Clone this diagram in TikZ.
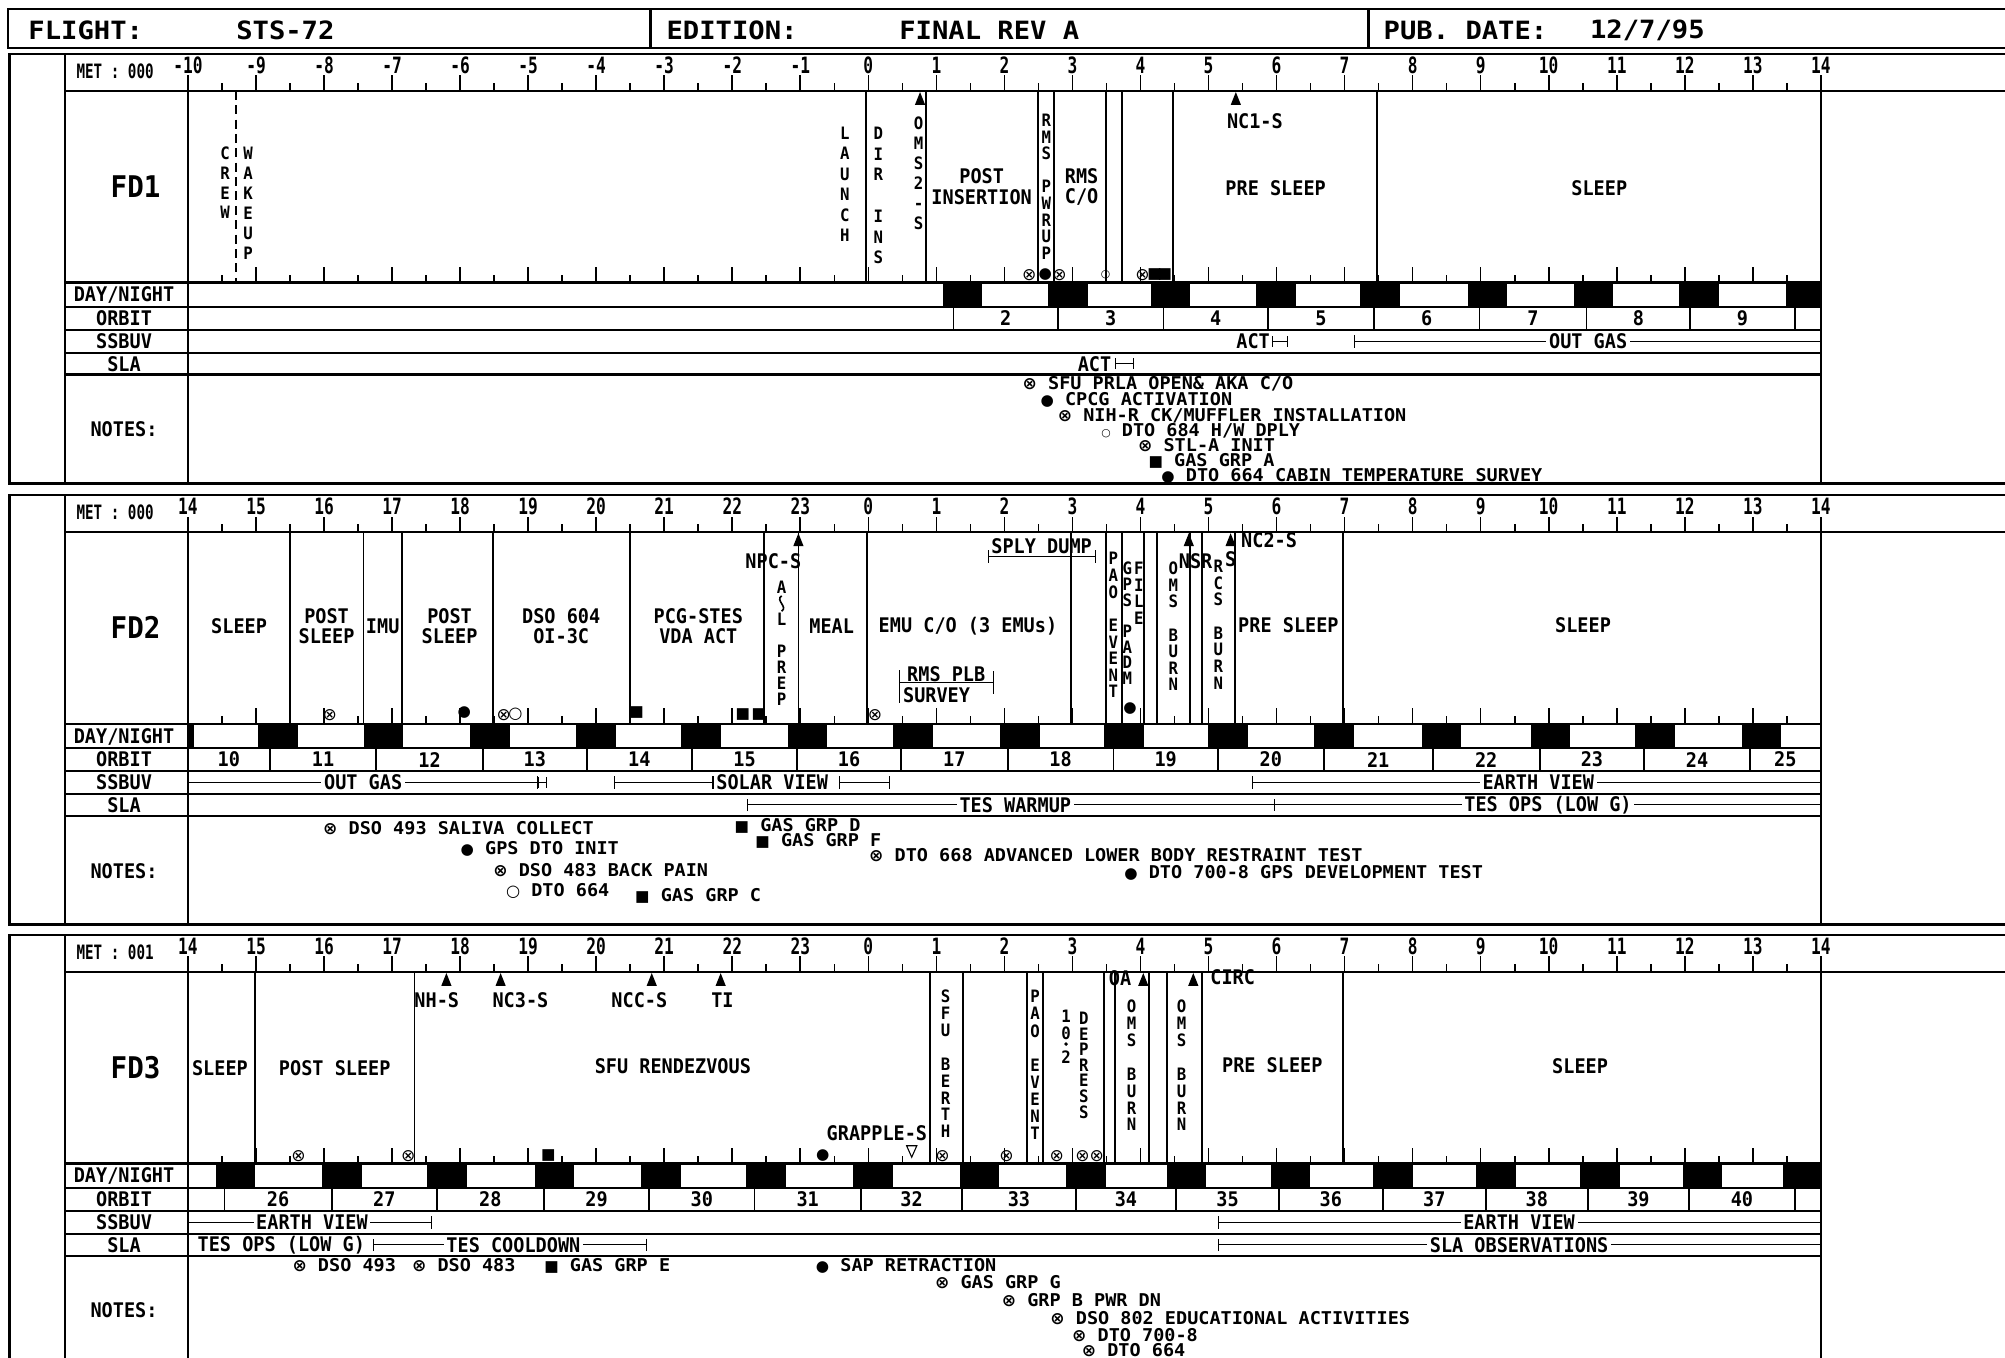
\documentclass[tikz,border=0pt]{standalone}
\usepackage{fontspec}
\setmainfont{DejaVu Sans Mono}[FakeStretch=0.92]
\newfontfamily\hdfont{DejaVu Sans Mono}[FakeStretch=1.08]
\newfontfamily\numfont{DejaVu Sans Mono}[FakeStretch=0.72]
\newfontfamily\notefont{DejaVu Sans Mono}[FakeStretch=1.05]
\newfontfamily\symfont{DejaVu Sans}
\usetikzlibrary{arrows.meta}

% fonts of the sheet
\newcommand{\lbl}{\bfseries\fontsize{11.2}{11.2}\selectfont}
\newcommand{\vlbl}{\bfseries\fontsize{9.5}{9.5}\selectfont}
\newcommand{\notefnt}{\notefont\bfseries\fontsize{9.8}{9.8}\selectfont}
\newcommand{\hdfnt}{\hdfont\bfseries\fontsize{14}{14}\selectfont}
\newcommand{\numfnt}{\numfont\bfseries\fontsize{12.5}{12.5}\selectfont}
\newcommand{\metfnt}{\numfont\bfseries\fontsize{11}{11}\selectfont}
\newcommand{\fdfnt}{\bfseries\fontsize{16.6}{17}\selectfont}

% note symbols
\newcommand{\gX}{{\symfont\fontsize{9.5}{9.5}\selectfont ⊗}}
\newcommand{\gB}{{\symfont\fontsize{8.5}{8.5}\selectfont ●}}
\newcommand{\gS}{{\symfont\fontsize{8.5}{8.5}\selectfont ■}}
\newcommand{\gO}{{\symfont\fontsize{9}{9}\selectfont ○}}
\newcommand{\go}{{\symfont\fontsize{6}{6}\selectfont ○}}

% letters stacked down a narrow slot
\newcommand{\vword}[5]{%
  \foreach \c [count=\k] in {#5}
    \node[vchar] (#1-\k) at (#2,{#3+(\k-1)*#4}) {\c};}
% activity dividers of one day
\newcommand{\divs}[2]{%
  \foreach \x in {#2} \draw[div] (\x,{#1+29}) -- (\x,{#1+179});}
% night blocks of one day
\newcommand{\nights}[2]{%
  \foreach \x in {#2} \fill ({\x},{#1+179.5}) rectangle ({min(\x+31,1424)},{#1+198});}
% orbit boundaries and numbers of one day
\newcommand{\orbits}[4]{%
  \foreach \x [count=\i, remember=\x as \lx (initially 0)] in {#4} {
    \draw[div] (\x,{#1+198}) -- (\x,{#1+216});
    \ifnum\i>1
      \pgfmathtruncatemacro\onum{#3+\i-2}
      \node[lab] (orb#2-\onum) at ({(\x+\lx)/2},{#1+207}) {\onum};
    \fi}}

\begin{document}
\begin{tikzpicture}[x=0.025cm, y=-0.025cm,
  frame/.style={line width=1.3pt},
  div/.style={line width=1pt},
  tick/.style={line width=0.9pt},
  span/.style={line width=0.6pt},
  lab/.style={font=\lbl, inner sep=0pt, align=center},
  barlab/.style={lab, fill=white, inner xsep=1.5pt, inner ysep=0.5pt},
  vchar/.style={font=\vlbl, inner sep=0pt, text height=6.9pt, text depth=0pt},
  note/.style={font=\notefnt, inner sep=0pt, anchor=west, text height=7.1pt, text depth=0pt},
  sym/.style={inner sep=0pt},
  hd/.style={font=\hdfnt, inner sep=0pt, anchor=west},
  hr/.style={font=\numfnt, inner sep=0pt},
  uptri/.pic={\fill (0,0) -- (-4,10) -- (4,10) -- cycle;}]

\useasboundingbox (0,0) rectangle (1568,1062);
\clip (0,0) rectangle (1568,1062);

% Header
\draw[frame] (1568,7.3) -- (6,7.3) -- (6,37.3) -- (1568,37.3);
\draw[frame] (508.7,7.3) -- (508.7,37.3) (1070.3,7.3) -- (1070.3,37.3);
\node[hd] (flight) at (22,23.5) {FLIGHT:};
\node[hd] (flightno) at (184.5,23.5) {STS-72};
\node[hd] (edition) at (521,23.5) {EDITION:};
\node[hd] (editionno) at (703,23.5) {FINAL REV A};
\node[hd] (pubdate) at (1081.8,23.5) {PUB. DATE:};
\node[hd] (pubdateno) at (1243.2,23.5) {12/7/95};

% Frame, time scale and row names of each flight day
\foreach \T/\d/\met/\hs in {42/1/000/-10, 387/2/000/14, 731/3/001/14} {
  \draw[frame] (1568,\T) -- (7.5,\T) -- (7.5,\T+336) -- (1568,\T+336);
  \draw[frame] (51,\T) -- (51,\T+336);
  \draw[frame] (51,\T+29) -- (1568,\T+29);
  \foreach \r in {179,198,216,234,251}
    \draw[frame] (51,\T+\r) -- (1424,\T+\r);
  \draw[frame] (147,\T+29) -- (147,\T+336) (1424,\T+29) -- (1424,\T+336);
  \foreach \i in {0,...,48} {
    \pgfmathsetmacro\tx{147+\i*26.604}
    \pgfmathsetmacro\tl{isodd(\i) ? 6 : 12}
    \draw[tick] (\tx,\T+29) -- ++(0,-\tl) (\tx,\T+179) -- ++(0,-\tl);
  }
  \foreach \i in {0,...,24} {
    \pgfmathtruncatemacro\hr{\i+\hs>23 ? \i+\hs-24 : \i+\hs}
    \node[hr] (h\d-\i) at ({147+\i*53.208},\T+9) {\hr};
  }
  \node[lab, font=\metfnt] (met\d) at (90,\T+14) {MET : \met};
  \node[lab, font=\fdfnt] (fd\d) at (106,\T+104) {FD\d};
  \node[lab] (dn\d) at (97,\T+189) {DAY/NIGHT};
  \node[lab] (orbit\d) at (97,\T+207) {ORBIT};
  \node[lab] (ssbuv\d) at (97,\T+225) {SSBUV};
  \node[lab] (sla\d) at (97,\T+242.5) {SLA};
  \node[lab] (notes\d) at (97,\T+294) {NOTES:};
}

% ---------------- FD1 ----------------
\divs{42}{677,724.2,812,824.5,864.7,877.2,917.1,1076.8}
\draw[div, dash pattern=on 5pt off 3pt] (184.6,71) -- (184.6,221);
\vword{crew}{176}{120}{15.4}{C,R,E,W}
\vword{wake}{194}{120}{15.6}{W,A,K,E,U,P}
\vword{launch}{660.8}{104.2}{16}{L,A,U,N,C,H}
\vword{dirins}{686.9}{104.2}{16.2}{D,I,R,{},I,N,S}
\vword{omstwo}{718.4}{96.4}{15.6}{O,M,S,2,-,S}
\vword{rmspwr}{818.3}{94}{13}{R,M,S,{},P,W,R,U,P}
\node[lab] (postins) at (767.7,146) {POST\\INSERTION};
\node[lab] (rmsco) at (845.9,146.5) {RMS\\C/O};
\node[lab] (presleep1) at (997.6,147) {PRE SLEEP};
\node[lab] (sleep1) at (1250.7,147) {SLEEP};
\pic (tri1a) at (719.5,72) {uptri};
\pic (tri1b) at (966.5,72) {uptri};
\node[lab] (nc1) at (981.4,95) {NC1-S};
\foreach \x/\s [count=\k] in {805/\gX, 817.5/\gB, 828.5/\gX, 864.7/\go, 893.6/\gX, 903/\gS, 911/\gS}
  \node[sym] (s1-\k) at (\x,215) {\s};
\nights{42}{737.2,819.6,899.8,982.6,1063.7,1147.9,1230.7,1313.4,1396.6}
\orbits{42}{1}{2}{745.6,827.2,909.9,991.6,1074.3,1157,1240.7,1321.9,1403.6}
% SSBUV and SLA
\node[lab] (act1a) at (980,267) {ACT};
\draw[span, {Bar[width=6pt]}-{Bar[width=6pt]}] (995,267) -- (1007,267);
\draw[span, {Bar[width=7pt]}-] (1058.7,267) -- (1424,267);
\node[barlab] (outgas1) at (1242,267) {OUT GAS};
\node[lab] (act1b) at (856,284.5) {ACT};
\draw[span, {Bar[width=6pt]}-{Bar[width=6pt]}] (872,284.5) -- (887,284.5);
% notes
\node[note] (n1-1) at (799.5,300) {\gX\ SFU PRLA OPEN\& AKA C/O};
\node[note] (n1-2) at (813.5,312) {\gB\ CPCG ACTIVATION};
\node[note] (n1-3) at (827,324.6) {\gX\ NIH-R CK/MUFFLER INSTALLATION};
\node[note] (n1-4) at (861,336.3) {\go\ DTO 684 H/W DPLY};
\node[note] (n1-5) at (889.8,348) {\gX\ STL-A INIT};
\node[note] (n1-6) at (898,359.8) {\gS\ GAS GRP A};
\node[note] (n1-7) at (908,371.5) {\gB\ DTO 664 CABIN TEMPERATURE SURVEY};

% ---------------- FD2 ----------------
\divs{387}{227,284.3,314.2,385.5,492.8,597.7,624.4,677.8,837.6,864.7,877.2,894.7,904.6,930.6,939.8,965.8,1050.2}
\node[lab] (sleep2a) at (187,490) {SLEEP};
\node[lab] (postsleep2a) at (255.4,490) {POST\\SLEEP};
\node[lab] (imu2) at (299.3,490) {IMU};
\node[lab] (postsleep2b) at (351.6,490) {POST\\SLEEP};
\node[lab] (dso604) at (438.9,490) {DSO 604\\OI-3C};
\node[lab] (pcg2) at (546.1,490) {PCG-STES\\VDA ACT};
\node[lab] (meal2) at (650.4,490) {MEAL};
\node[lab] (emu2) at (757,490) {EMU C/O (3 EMUs)};
\node[lab] (presleep2) at (1007.6,489) {PRE SLEEP};
\node[lab] (sleep2b) at (1238,489) {SLEEP};
\pic (tri2a) at (624.4,417) {uptri};
\pic (tri2b) at (929.7,417) {uptri};
\pic (tri2c) at (962.4,417) {uptri};
\node[lab] (npc2) at (604.8,439) {NPC-S};
\node[lab] (nsr2) at (935,439) {NSR};
\node[lab] (nsrs2) at (962.4,437) {S};
\node[lab] (nc2) at (992.5,422.4) {NC2-S};
\vword{alprep}{611.3}{459}{12.5}{A}
\draw[line width=0.9pt] (611.3,466) .. controls (606,469.5) and (616.5,474.5) .. (611.3,478);
\vword{prep}{611.3}{484}{12.5}{L,{},P,R,E,P}
\vword{paotwo}{870.7}{437}{13}{P,A,O,{},E,V,E,N,T}
\vword{gpstwo}{881.6}{444.5}{12.3}{G,P,S,{},P,A,D,M}
\vword{filetwo}{890.6}{444.5}{13}{F,I,L,E}
\vword{omsburn2}{917.6}{444.5}{13}{O,M,S,{},B,U,R,N}
\vword{rcsburn2}{952.8}{443}{13}{R,C,S,{},B,U,R,N}
% supply dump and payload bay survey brackets
\draw[span, {Bar[width=7pt]}-{Bar[width=7pt]}] (772.9,435.3) -- (856.9,435.3);
\node[lab] (splydump) at (814.6,427.5) {SPLY DUMP};
\draw[span] (703.2,524) -- (703.2,550) (776.8,525) -- (776.8,543) (703.2,534) -- (776.8,534);
\node[lab] (rmsplb) at (740,527.5) {RMS PLB};
\node[lab, anchor=west] (survey) at (706,544) {SURVEY};
\foreach \x/\s [count=\k] in {257.9/\gX, 394/\gX, 403/\gO, 581/\gS, 593.5/\gS, 684.3/\gX}
  \node[sym] (s2-\k) at (\x,559) {\s};
\node[sym] (s2-7) at (363.1,557) {\gB};
\node[sym] (s2-8) at (497.8,557) {\gS};
\node[sym] (s2-9) at (883.7,554) {\gB};
\fill (147,566.5) rectangle (152,585);
\nights{387}{202,284.3,367.6,450.4,532.7,616,698.3,782,863.3,945,1027.7,1111.9,1197,1279,1362}
\orbits{387}{2}{11}{211,294.3,377.6,458.9,541.1,623.4,704.7,788,870.8,952.5,1035.2,1120.4,1204.1,1285.8,1368.5}
\node[lab] (orb2-10) at (179,594) {10};
\node[lab] (orb2-25) at (1396.2,594) {25};
% SSBUV and SLA
\draw[span, -{Bar[width=7pt]}] (147,612) -- (421,612);
\draw[span, {Bar[width=6pt]}-{Bar[width=6pt]}] (421,612) -- (428,612);
\node[barlab] (outgas2) at (284,612) {OUT GAS};
\draw[span, {Bar[width=7pt]}-{Bar[width=7pt]}] (480,612) -- (558,612);
\node[lab, anchor=west] (solar2) at (560,612) {SOLAR VIEW};
\draw[span, {Bar[width=7pt]}-{Bar[width=7pt]}] (656,612) -- (696,612);
\draw[span, {Bar[width=7pt]}-] (979,612) -- (1424,612);
\node[barlab] (earth2) at (1203,612) {EARTH VIEW};
\draw[span, {Bar[width=7pt]}-] (584.5,629.5) -- (1424,629.5);
\draw[span] (996.6,625) -- (996.6,634);
\node[barlab] (warmup2) at (794,629.5) {TES WARMUP};
\node[barlab] (tesops2) at (1210.6,629.5) {TES OPS (LOW G)};
% notes
\node[note] (n2-1) at (252.5,647.8) {\gX\ DSO 493 SALIVA COLLECT};
\node[note] (n2-2) at (360,663.4) {\gB\ GPS DTO INIT};
\node[note] (n2-3) at (385.5,680.4) {\gX\ DSO 483 BACK PAIN};
\node[note] (n2-4) at (395.5,696) {\gO\ DTO 664};
\node[note] (n2-5) at (496.5,700) {\gS\ GAS GRP C};
\node[note] (n2-6) at (574.3,645.2) {\gS\ GAS GRP D};
\node[note] (n2-7) at (590.5,657) {\gS\ GAS GRP F};
\node[note] (n2-8) at (679.5,668.6) {\gX\ DTO 668 ADVANCED LOWER BODY RESTRAINT TEST};
\node[note] (n2-9) at (879,681.7) {\gB\ DTO 700-8 GPS DEVELOPMENT TEST};

% ---------------- FD3 ----------------
\divs{731}{199.5,324.2,727.3,753.4,802.9,815.9,863.4,872,898.8,912.9,939.8,1050.2}
\node[lab] (sleep3a) at (172,835) {SLEEP};
\node[lab] (postsleep3) at (261.8,835) {POST SLEEP};
\node[lab] (sfurndz) at (526.2,834) {SFU RENDEZVOUS};
\node[lab] (presleep3) at (995,833) {PRE SLEEP};
\node[lab] (sleep3b) at (1235.7,834) {SLEEP};
\foreach \x [count=\k] in {349.1,391.5,509.7,563.6,894.1,933.2}
  \pic (tri3-\k) at (\x,761) {uptri};
\node[lab] (nh3) at (341.6,782) {NH-S};
\node[lab] (nc3) at (407,782) {NC3-S};
\node[lab] (ncc3) at (500,782) {NCC-S};
\node[lab] (ti3) at (565,782) {TI};
\node[lab] (oa3) at (876,765) {OA};
\node[lab] (circ3) at (964,764) {CIRC};
\node[lab] (grapple3) at (685.8,886) {GRAPPLE-S};
\draw[span] (709,896) -- (717,896) -- (713,905) -- cycle;
\vword{berth}{739.5}{779.4}{13.2}{S,F,U,{},B,E,R,T,H}
\vword{paothree}{809.4}{779.4}{13.4}{P,A,O,{},E,V,E,N,T}
\vword{tenpt}{833.7}{795}{13.1}{1,0}
\fill (833.7,816.5) circle (1.5);
\node[vchar] (tenpt-3) at (833.7,827) {2};
\vword{depress}{847.7}{796.4}{12.2}{D,E,P,R,E,S,S}
\vword{omsburn3a}{885}{787.2}{13.2}{O,M,S,{},B,U,R,N}
\vword{omsburn3b}{924.1}{787.2}{13.2}{O,M,S,{},B,U,R,N}
\foreach \x/\s [count=\k] in {233.4/\gX, 319.2/\gX, 428.9/\gS, 643.4/\gB, 737/\gX, 787.2/\gX, 826.4/\gX, 846.6/\gX, 857.7/\gX}
  \node[sym] (s3-\k) at (\x,904) {\s};
\nights{731}{168.6,251.9,334.2,418,501.2,583.5,667.3,750.5,833.7,912.4,993.6,1073.8,1154.5,1235.7,1315.9,1394.6}
\orbits{731}{3}{26}{175.6,259.4,341.6,425.4,507.7,590,673.3,752.5,841.2,919.9,1000.1,1081.3,1162,1241.7,1320.9,1403.6}
% SSBUV and SLA
\draw[span, -{Bar[width=7pt]}] (147,956) -- (338,956);
\node[barlab] (earth3a) at (244,956) {EARTH VIEW};
\draw[span, {Bar[width=7pt]}-] (952.5,956) -- (1424,956);
\node[barlab] (earth3b) at (1188,956) {EARTH VIEW};
\node[lab] (tesops3) at (220,973.5) {TES OPS (LOW G)};
\draw[span, {Bar[width=7pt]}-{Bar[width=7pt]}] (291.8,973.5) -- (506.2,973.5);
\node[barlab] (cooldown3) at (401.5,973.5) {TES COOLDOWN};
\draw[span, {Bar[width=7pt]}-] (952.5,973.5) -- (1424,973.5);
\node[barlab] (slaobs3) at (1188,973.5) {SLA OBSERVATIONS};
% notes
\node[note] (n3-1) at (228.5,989.3) {\gX\ DSO 493};
\node[note] (n3-2) at (322,989.3) {\gX\ DSO 483};
\node[note] (n3-3) at (425.4,989.3) {\gS\ GAS GRP E};
\node[note] (n3-4) at (637.8,989.3) {\gB\ SAP RETRACTION};
\node[note] (n3-5) at (731,1002.3) {\gX\ GAS GRP G};
\node[note] (n3-6) at (783.2,1016.6) {\gX\ GRP B PWR DN};
\node[note] (n3-7) at (821.2,1031) {\gX\ DSO 802 EDUCATIONAL ACTIVITIES};
\node[note] (n3-8) at (838.2,1044) {\gX\ DTO 700-8};
\node[note] (n3-9) at (845.8,1055.7) {\gX\ DTO 664};

\end{tikzpicture}
\end{document}
